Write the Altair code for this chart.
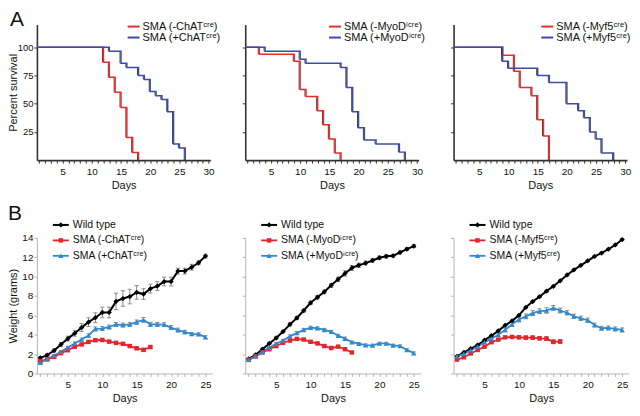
import altair as alt
import pandas as pd

FONT = "Liberation Sans"
RED_A, BLUE_A = "#ee2a2a", "#3b4ca6"
BLACK_B, RED_B, BLUE_B = "#000000", "#e8232b", "#2f8ad0"
GREY_ERR = "#8a8a8a"

# ---------------- A: survival (percent) ----------------
chat_neg_days = [0, 12, 13, 14, 15, 16, 17, 18]
chat_neg_surv = [100, 86.7, 73.3, 60.0, 46.7, 20.0, 6.7, 0]
chat_pos_days = [0, 13, 15, 16, 18, 19, 20, 21, 22, 23, 24, 25, 26]
chat_pos_surv = [100, 96.4, 85.7, 82.1, 75.0, 71.4, 60.7, 57.1, 53.6, 42.9, 14.3, 10.7, 0]

myod_neg_days = [0, 3, 9, 10, 11, 13, 14, 15, 16, 17]
myod_neg_surv = [100, 93.8, 87.5, 62.5, 56.3, 43.8, 31.3, 18.8, 6.3, 0]
myod_pos_days = [0, 4, 10, 11, 17, 18, 19, 20, 21, 23, 27, 28]
myod_pos_surv = [100, 96.4, 89.3, 85.7, 82.1, 64.3, 42.9, 28.6, 17.9, 14.3, 7.1, 0]

myf5_neg_days = [0, 9, 11, 12, 14, 15, 16, 17]
myf5_neg_surv = [100, 92.9, 78.6, 64.3, 57.1, 35.7, 21.4, 0]
myf5_pos_days = [0, 9, 10, 15, 17, 20, 22, 23, 24, 25, 26, 28]
myf5_pos_surv = [100, 87.5, 81.3, 75.0, 68.8, 50.0, 43.8, 37.5, 25.0, 18.8, 6.3, 0]

# ---------------- B: weight (grams) ----------------
days = list(range(1, 26))

chat_wt = [1.61, 1.90, 2.37, 3.00, 3.60, 4.15, 4.74, 5.30, 5.76, 6.30, 6.30, 7.44, 7.74,
           7.94, 8.37, 8.20, 8.76, 9.02, 9.49, 9.49, 10.57, 10.57, 10.97, 11.43, 12.12]
chat_wt_err = [0.10, 0.12, 0.15, 0.20, 0.25, 0.30, 0.40, 0.45, 0.50, 0.55, 0.55, 0.85, 0.80,
               0.75, 0.70, 0.55, 0.45, 0.45, 0.45, 0.45, 0.30, 0.30, 0.30, 0.20, 0.20]
chat_neg = [1.28, 1.45, 1.71, 2.10, 2.40, 2.77, 3.00, 3.26, 3.43, 3.46, 3.29, 3.16, 3.06,
            2.83, 2.60, 2.44, 2.73]
chat_neg_err = [0.08, 0.08, 0.10, 0.10, 0.10, 0.12, 0.12, 0.12, 0.12, 0.12, 0.12, 0.12, 0.12,
                0.12, 0.12, 0.15, 0.15]
chat_pos = [1.12, 1.50, 1.84, 2.24, 2.67, 3.10, 3.50, 3.92, 4.60, 4.64, 4.80, 5.07, 5.00,
            5.07, 5.30, 5.53, 5.07, 5.07, 5.04, 4.74, 4.48, 4.28, 4.08, 4.05, 3.75]
chat_pos_err = [0.08, 0.10, 0.10, 0.12, 0.12, 0.15, 0.15, 0.18, 0.20, 0.20, 0.20, 0.20, 0.20,
                0.20, 0.22, 0.25, 0.20, 0.20, 0.20, 0.20, 0.20, 0.18, 0.15, 0.15, 0.15]

myod_wt = [1.50, 1.93, 2.50, 3.10, 3.67, 4.33, 5.07, 5.73, 6.50, 7.30, 7.87, 8.43, 9.10,
           9.73, 10.33, 10.90, 11.17, 11.40, 11.67, 11.95, 12.10, 12.15, 12.50, 12.85, 13.15]
myod_wt_err = [0.05, 0.08, 0.10, 0.10, 0.12, 0.12, 0.15, 0.15, 0.15, 0.18, 0.18, 0.20, 0.20,
               0.22, 0.28, 0.25, 0.22, 0.20, 0.20, 0.18, 0.18, 0.15, 0.15, 0.15, 0.15]
myod_neg = [1.40, 1.77, 2.17, 2.50, 2.83, 3.17, 3.40, 3.57, 3.50, 3.27, 3.10, 2.83, 2.63,
            2.77, 2.50, 2.17]
myod_neg_err = [0.08] * 16
myod_pos = [1.43, 1.77, 2.23, 2.67, 3.07, 3.40, 3.83, 4.17, 4.50, 4.73, 4.67, 4.50, 4.30,
            3.90, 3.60, 3.23, 3.07, 2.93, 2.90, 3.10, 3.10, 2.90, 2.83, 2.43, 2.10]
myod_pos_err = [0.08, 0.10, 0.10, 0.12, 0.12, 0.12, 0.15, 0.15, 0.15, 0.15, 0.15, 0.15, 0.15,
                0.15, 0.15, 0.12, 0.12, 0.12, 0.12, 0.12, 0.12, 0.12, 0.12, 0.12, 0.12]

myf5_wt = [1.77, 2.17, 2.57, 2.93, 3.43, 3.90, 4.40, 4.97, 5.43, 6.00, 6.83, 7.43, 7.93,
           8.50, 9.00, 9.57, 10.17, 10.70, 11.17, 11.63, 12.10, 12.43, 12.83, 13.27, 13.83]
myf5_wt_err = [0.08] * 25
myf5_neg = [1.43, 1.67, 2.07, 2.43, 2.77, 3.23, 3.50, 3.73, 3.77, 3.73, 3.70, 3.70, 3.63,
            3.60, 3.27, 3.30]
myf5_neg_err = [0.08, 0.08, 0.08, 0.08, 0.08, 0.08, 0.08, 0.08, 0.10, 0.15, 0.18, 0.18, 0.18,
                0.20, 0.20, 0.20]
myf5_pos = [1.77, 2.03, 2.40, 2.77, 3.23, 3.60, 4.00, 4.50, 5.07, 5.57, 5.90, 6.23, 6.43,
            6.50, 6.77, 6.50, 6.27, 5.90, 5.70, 5.50, 5.00, 4.67, 4.70, 4.60, 4.50]
myf5_pos_err = [0.08, 0.08, 0.10, 0.10, 0.12, 0.15, 0.18, 0.20, 0.22, 0.25, 0.25, 0.25, 0.25,
                0.28, 0.25, 0.25, 0.22, 0.22, 0.22, 0.22, 0.20, 0.20, 0.20, 0.20, 0.20]

TOP_W, TOP_H = 174, 136
BOT_W, BOT_H = 176, 136


def one_row(col, val):
    return pd.DataFrame({col: [val]})


def legend_line(x1, x2, y, color, width):
    return alt.Chart(one_row("a", 0)).mark_rule(color=color, strokeWidth=width).encode(
        x=alt.value(x1), x2=alt.value(x2), y=alt.value(y))


def legend_point(x, y, color, shape, size):
    return alt.Chart(one_row("a", 0)).mark_point(
        color=color, shape=shape, size=size, filled=True, opacity=1).encode(
        x=alt.value(x), y=alt.value(y))


def text_at(x, y, text, size, baseline="middle"):
    return alt.Chart(one_row("t", text)).mark_text(
        align="left", baseline=baseline, fontSize=size, font=FONT, color="#111").encode(
        text="t:N", x=alt.value(x), y=alt.value(y))


def survival_panel(nd, ns, pd_, ps, neg_label, pos_label, first, leg_x, letter=None):
    df = pd.concat([
        pd.DataFrame({"day": nd, "surv": ns, "group": neg_label}),
        pd.DataFrame({"day": pd_, "surv": ps, "group": pos_label}),
    ])
    rows = []
    for dl, sl in ((nd, ns), (pd_, ps)):
        for i in range(1, len(dl)):
            rows.append({"day": dl[i], "surv": sl[i - 1], "to": sl[i]})
    drops = pd.DataFrame(rows)
    xs = alt.Scale(domain=[0.6, 30.3], nice=False, zero=False)
    ys = alt.Scale(domain=[0, 120], nice=False)
    common = dict(grid=False, domainColor="#333", domainWidth=1.6, tickColor="#333",
                  tickWidth=1, tickSize=3, labelFont=FONT, titleFont=FONT,
                  labelColor="#111", titleColor="#111", titleFontWeight="normal",
                  labelOverlap=False, labelFlush=False)
    xaxis = alt.Axis(values=list(range(1, 31)),
                     labelExpr="datum.value % 5 === 0 ? datum.label : ''",
                     labelFontSize=10, titleFontSize=11, labelPadding=3, titlePadding=3,
                     **common)
    if first:
        yaxis = alt.Axis(values=[25, 50, 75, 100], labelFontSize=9.5, labelPadding=1,
                         titleFontSize=11, titleX=-18, **common)
        ytitle = "Percent survival"
    else:
        yaxis = alt.Axis(values=[25, 50, 75, 100], labels=False, **common)
        ytitle = None
    cscale = alt.Scale(domain=[neg_label, pos_label], range=[RED_A, BLUE_A])
    X = alt.X("day:Q", scale=xs, axis=xaxis, title="Days")
    verts = alt.Chart(drops).mark_rule(color="#111", strokeWidth=0.8, xOffset=-1).encode(
        x=X, y=alt.Y("surv:Q", scale=ys, axis=yaxis, title=ytitle), y2="to:Q")
    lines = alt.Chart(df).mark_line(interpolate="step-after", strokeWidth=1.5, clip=True).encode(
        x=X,
        y=alt.Y("surv:Q", scale=ys, axis=yaxis, title=ytitle),
        color=alt.Color("group:N", scale=cscale, legend=None),
    )
    layers = [verts, lines,
              legend_line(leg_x, leg_x + 12, 2, RED_A, 2),
              legend_line(leg_x, leg_x + 12, 13, BLUE_A, 2),
              text_at(leg_x + 15, 2, neg_label, 11),
              text_at(leg_x + 15, 13, pos_label, 11)]
    if letter:
        layers.append(text_at(-27, -16, letter, 21, baseline="top"))
    return alt.layer(*layers).properties(width=TOP_W, height=TOP_H)


def series_df(vals, errs, group):
    d = days[:len(vals)]
    return pd.DataFrame({
        "day": d, "w": vals,
        "lo": [v - e for v, e in zip(vals, errs)],
        "hi": [v + e for v, e in zip(vals, errs)],
        "c1": [x - 0.3 for x in d], "c2": [x + 0.3 for x in d],
        "group": group,
    })


def weight_panel(series, first, letter=None):
    # series: list of (vals, errs, label, color, shape, size, width)
    xs = alt.Scale(domain=[0.5, 26], nice=False, zero=False)
    ys = alt.Scale(domain=[0, 14], nice=False)
    common = dict(grid=False, domainColor="#b5b5b5", domainWidth=1, tickColor="#b5b5b5",
                  tickWidth=1, tickSize=3, labelFont=FONT, titleFont=FONT,
                  labelColor="#111", titleColor="#111", titleFontWeight="normal",
                  labelOverlap=False, labelFlush=False)
    xaxis = alt.Axis(values=days, labelExpr="datum.value % 5 === 0 ? datum.label : ''",
                     labelFontSize=10, titleFontSize=11, labelPadding=3, titlePadding=3,
                     **common)
    if first:
        yaxis = alt.Axis(values=list(range(0, 15, 2)), labelFontSize=10, labelPadding=1,
                         titleFontSize=11, titleX=-18, **common)
        ytitle = "Weight (grams)"
    else:
        yaxis = alt.Axis(values=list(range(0, 15, 2)), labels=False, **common)
        ytitle = None
    X = alt.X("day:Q", scale=xs, axis=xaxis, title="Days")
    Y = alt.Y("w:Q", scale=ys, axis=yaxis, title=ytitle)
    err_layers, line_layers, pt_layers, leg = [], [], [], []
    leg_y = [-13, 2.5, 18]
    for i, (vals, errs, label, color, shape, size, width) in enumerate(series):
        df = series_df(vals, errs, label)
        base = alt.Chart(df)
        err_layers.append(base.mark_rule(color=GREY_ERR, strokeWidth=1).encode(
            x=X, y=alt.Y("lo:Q", scale=ys, axis=yaxis, title=ytitle), y2="hi:Q"))
        for edge in ("lo", "hi"):
            err_layers.append(base.mark_rule(color=GREY_ERR, strokeWidth=1).encode(
                x=alt.X("c1:Q", scale=xs, axis=xaxis, title="Days"), x2="c2:Q",
                y=alt.Y(f"{edge}:Q", scale=ys, axis=yaxis, title=ytitle)))
        line_layers.append(base.mark_line(color=color, strokeWidth=width).encode(x=X, y=Y))
        pt_layers.append(base.mark_point(color=color, shape=shape, size=size, filled=True,
                                         opacity=1).encode(x=X, y=Y))
        leg.append(legend_line(16, 32, leg_y[i], color, width))
        leg.append(legend_point(24, leg_y[i], color, shape, size))
        leg.append(text_at(36, leg_y[i], label, 10.5))
    layers = err_layers + line_layers + pt_layers + leg
    if letter:
        layers.append(text_at(-29, -35, letter, 21, baseline="top"))
    return alt.layer(*layers).properties(width=BOT_W, height=BOT_H)


a1 = survival_panel(chat_neg_days, chat_neg_surv, chat_pos_days, chat_pos_surv,
                    "SMA (-ChATᶜʳᵉ)", "SMA (+ChATᶜʳᵉ)", True, 91, letter="A")
a2 = survival_panel(myod_neg_days, myod_neg_surv, myod_pos_days, myod_pos_surv,
                    "SMA (-MyoDⁱᶜʳᵉ)", "SMA (+MyoDⁱᶜʳᵉ)", False, 84)
a3 = survival_panel(myf5_neg_days, myf5_neg_surv, myf5_pos_days, myf5_pos_surv,
                    "SMA (-Myf5ᶜʳᵉ)", "SMA (+Myf5ᶜʳᵉ)", False, 88)

b1 = weight_panel([
    (chat_wt, chat_wt_err, "Wild type", BLACK_B, "diamond", 28, 2),
    (chat_neg, chat_neg_err, "SMA (-ChATᶜʳᵉ)", RED_B, "square", 20, 1.8),
    (chat_pos, chat_pos_err, "SMA (+ChATᶜʳᵉ)", BLUE_B, "triangle-up", 28, 1.8),
], True, letter="B")
b2 = weight_panel([
    (myod_wt, myod_wt_err, "Wild type", BLACK_B, "diamond", 28, 2),
    (myod_neg, myod_neg_err, "SMA (-MyoDⁱᶜʳᵉ)", RED_B, "square", 20, 1.8),
    (myod_pos, myod_pos_err, "SMA (+MyoDⁱᶜʳᵉ)", BLUE_B, "triangle-up", 28, 1.8),
], False)
b3 = weight_panel([
    (myf5_wt, myf5_wt_err, "Wild type", BLACK_B, "diamond", 28, 2),
    (myf5_neg, myf5_neg_err, "SMA (-Myf5ᶜʳᵉ)", RED_B, "square", 20, 1.8),
    (myf5_pos, myf5_pos_err, "SMA (+Myf5ᶜʳᵉ)", BLUE_B, "triangle-up", 28, 1.8),
], False)

chart = alt.concat(a1, a2, a3, b1, b2, b3, columns=3, align="none", bounds="flush",
                   spacing={"row": 78, "column": 33}, padding=0).configure_view(
    strokeWidth=0).configure_axis(labelOverlap=False, labelFlush=False)

chart.save("out.html", embed_options={"renderer": "svg", "actions": False})
